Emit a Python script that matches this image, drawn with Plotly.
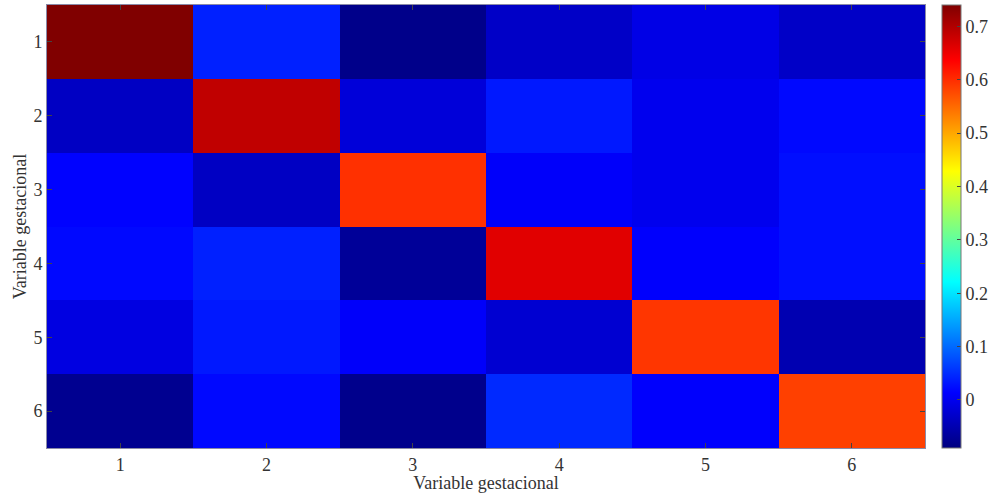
import plotly.graph_objects as go

# Gestational variables (rows and columns of the matrix)
variables = [1, 2, 3, 4, 5, 6]

# Matrix values, one list per row (row 1 drawn at the top)
row_1 = [0.740, 0.040, -0.082, -0.032, -0.007, -0.032]
row_2 = [-0.035, 0.688, -0.017, 0.033, 0.000, 0.020]
row_3 = [0.015, -0.035, 0.597, 0.010, 0.000, 0.025]
row_4 = [0.020, 0.040, -0.070, 0.661, 0.012, 0.025]
row_5 = [-0.011, 0.033, 0.010, -0.024, 0.592, -0.050]
row_6 = [-0.077, 0.020, -0.080, 0.047, 0.012, 0.584]

matrix = [row_1, row_2, row_3, row_4, row_5, row_6]

colorbar_ticks = [0, 0.1, 0.2, 0.3, 0.4, 0.5, 0.6, 0.7]
colorbar_labels = ["0", "0.1", "0.2", "0.3", "0.4", "0.5", "0.6", "0.7"]
z_min, z_max = -0.09, 0.74

# MATLAB-style jet colormap
jet = [
    [0.0, "rgb(0,0,128)"],
    [0.125, "rgb(0,0,255)"],
    [0.375, "rgb(0,255,255)"],
    [0.625, "rgb(255,255,0)"],
    [0.875, "rgb(255,0,0)"],
    [1.0, "rgb(128,0,0)"],
]

serif = "Liberation Serif, Times New Roman, serif"
text_size = 18

fig = go.Figure(
    go.Heatmap(
        z=matrix,
        x=variables,
        y=variables,
        colorscale=jet,
        zmin=z_min,
        zmax=z_max,
        colorbar=dict(
            x=1.019,
            xanchor="left",
            y=0,
            yanchor="bottom",
            len=1,
            lenmode="fraction",
            thickness=19,
            outlinewidth=1,
            outlinecolor="#777",
            tickvals=colorbar_ticks,
            ticktext=colorbar_labels,
            ticks="inside",
            ticklen=4,
            tickcolor="#444",
            tickfont=dict(family=serif, size=text_size, color="#333"),
            ypad=0,
            xpad=0,
        ),
    )
)

fig.update_layout(
    width=994,
    height=493,
    margin=dict(l=47, r=69, t=5, b=45, autoexpand=False),
    paper_bgcolor="white",
    plot_bgcolor="white",
    font=dict(family=serif, size=text_size, color="#333"),
)

fig.update_xaxes(
    tickvals=variables,
    ticktext=[str(v) for v in variables],
    range=[0.5, 6.5],
    ticks="inside",
    ticklen=5,
    tickcolor="#444",
    showline=True,
    linecolor="#8a8aa8",
    linewidth=1,
    mirror="ticks",
    showgrid=False,
    zeroline=False,
    automargin=False,
    title=dict(text="Variable gestacional", standoff=0, font=dict(family=serif, size=text_size)),
)

fig.update_yaxes(
    tickvals=variables,
    ticktext=[str(v) for v in variables],
    range=[6.5, 0.5],
    ticks="inside",
    ticklen=5,
    tickcolor="#444",
    showline=True,
    linecolor="#8a8aa8",
    linewidth=1,
    mirror="ticks",
    showgrid=False,
    zeroline=False,
    automargin=False,
    title=dict(text="Variable gestacional", standoff=2, font=dict(family=serif, size=text_size)),
)

fig.write_html("out.html")
